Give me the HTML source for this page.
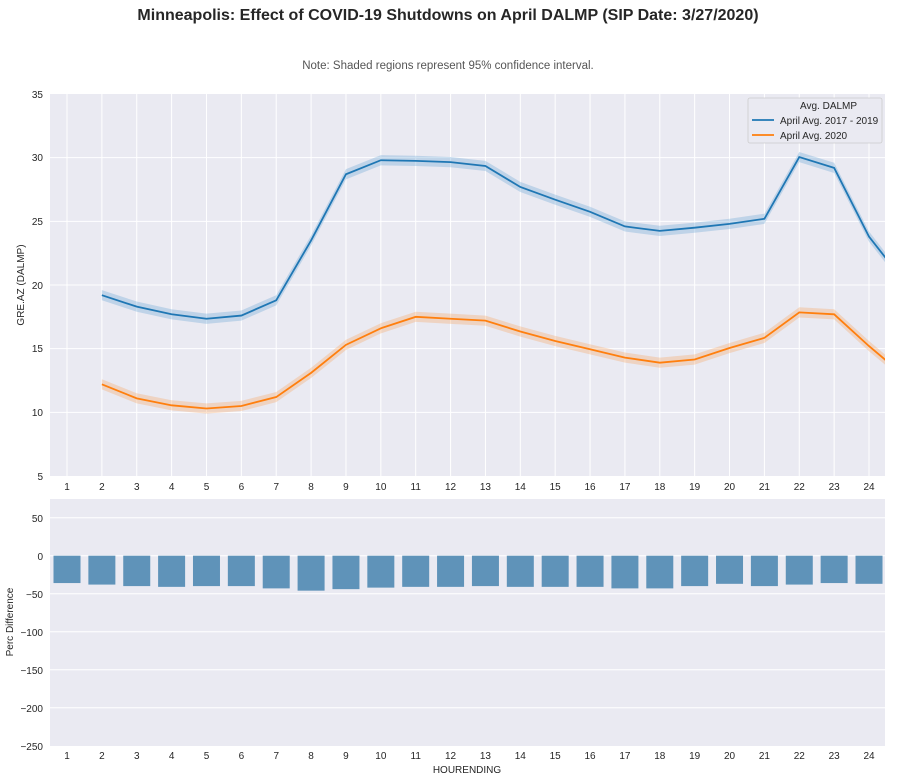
<!DOCTYPE html>
<html><head><meta charset="utf-8"><style>
body{margin:0;background:#fff;}
svg{display:block;font-family:"Liberation Sans",Arial,sans-serif;}
</style></head><body>
<svg id="s" width="897" height="782" xmlns="http://www.w3.org/2000/svg">
<text x="448" y="20" text-anchor="middle" font-size="16" font-weight="bold" fill="#262626">Minneapolis: Effect of COVID-19 Shutdowns on April DALMP (SIP Date: 3/27/2020)</text>
<text x="448" y="69" text-anchor="middle" font-size="11.5" fill="#555">Note: Shaded regions represent 95% confidence interval.</text>
<defs><clipPath id="c1"><rect x="50" y="94" width="835" height="382"/></clipPath></defs>
<rect x="50" y="94" width="835" height="382" fill="#eaeaf2"/>
<rect x="50" y="499" width="835" height="247" fill="#eaeaf2"/>
<g id="grid" stroke="#fff" stroke-width="1"></g>
<g id="top" clip-path="url(#c1)"></g>
<g id="bars" fill="#5f93b9"></g>
<g font-size="10" fill="#262626" text-anchor="end">
<text x="43" y="98">35</text><text x="43" y="161">30</text><text x="43" y="225">25</text><text x="43" y="289">20</text><text x="43" y="352">15</text><text x="43" y="416">10</text><text x="43" y="480">5</text>
<text x="43" y="522">50</text><text x="43" y="560">0</text><text x="43" y="598">−50</text><text x="43" y="636">−100</text><text x="43" y="674">−150</text><text x="43" y="712">−200</text><text x="43" y="750">−250</text>
</g>
<g id="xt" font-size="10" fill="#262626" text-anchor="middle"></g>
<text transform="translate(24,285) rotate(-90)" text-anchor="middle" font-size="10" fill="#262626">GRE.AZ (DALMP)</text>
<text transform="translate(13,622) rotate(-90)" text-anchor="middle" font-size="10" fill="#262626">Perc Difference</text>
<text x="467" y="773" text-anchor="middle" font-size="10" fill="#262626">HOURENDING</text>
<rect x="748" y="98" width="134" height="45" fill="#eaeaf2" stroke="#ccc" stroke-width="0.8" rx="2"/>
<text x="800" y="109" font-size="10" fill="#262626">Avg. DALMP</text>
<line x1="752" y1="120" x2="774" y2="120" stroke="#1f77b4" stroke-width="1.8"/>
<text x="780" y="124" font-size="10" fill="#262626">April Avg. 2017 - 2019</text>
<line x1="752" y1="135" x2="774" y2="135" stroke="#ff7f0e" stroke-width="1.8"/>
<text x="780" y="139" font-size="10" fill="#262626">April Avg. 2020</text>
</svg>
<script>
var NS="http://www.w3.org/2000/svg";
function el(p,t,a){var e=document.createElementNS(NS,t);for(var k in a)e.setAttribute(k,a[k]);document.getElementById(p).appendChild(e);return e;}
function X(h){return 67+(h-1)*34.87;}
function Y(v){return 476-(v-5)*12.733;}
function Yb(v){return 555.7-v*0.76;}
var g;
for(var h=1;h<=24;h++){el('grid','line',{x1:X(h),x2:X(h),y1:94,y2:476});}
[10,15,20,25,30].forEach(function(v){el('grid','line',{x1:50,x2:885,y1:Y(v),y2:Y(v)});});
[50,0,-50,-100,-150,-200].forEach(function(v){el('grid','line',{x1:50,x2:885,y1:Yb(v),y2:Yb(v)});});
for(h=1;h<=24;h++){var t=el('xt','text',{x:X(h),y:490});t.textContent=h;t=el('xt','text',{x:X(h),y:759});t.textContent=h;}
var b=[19.2,18.3,17.7,17.35,17.6,18.8,23.5,28.7,29.8,29.75,29.65,29.35,27.7,26.7,25.75,24.6,24.25,24.5,24.8,25.2,30.05,29.2,23.8,20.3];
var o=[12.2,11.1,10.55,10.3,10.5,11.2,13.1,15.3,16.6,17.5,17.35,17.2,16.35,15.6,14.95,14.3,13.9,14.15,15.05,15.85,17.85,17.7,15.2,12.9];
function series(d,col,fill,w){var up="",dn="",ln="";
for(var i=0;i<d.length;i++){var x=X(i+2);up+=(i?"L":"M")+x+","+Y(d[i]+w);ln+=(i?"L":"M")+x+","+Y(d[i]);}
for(i=d.length-1;i>=0;i--){dn+="L"+X(i+2)+","+Y(d[i]-w);}
el('top','path',{d:up+dn+"Z",fill:fill,"fill-opacity":0.35});
el('top','path',{d:ln,fill:"none",stroke:col,"stroke-width":1.8});}
series(b,"#1f77b4","#6fa8d8",0.4);series(o,"#ff7f0e","#f5a96a",0.4);
var p=[-36,-38,-40,-41,-40,-40,-43,-46,-44,-42,-41,-41,-40,-41,-41,-41,-43,-43,-40,-37,-40,-38,-36,-37];
for(h=1;h<=24;h++){el('bars','rect',{x:X(h)-13.5,y:555.7,width:27,height:-p[h-1]*0.76});}
</script>
</body></html>
